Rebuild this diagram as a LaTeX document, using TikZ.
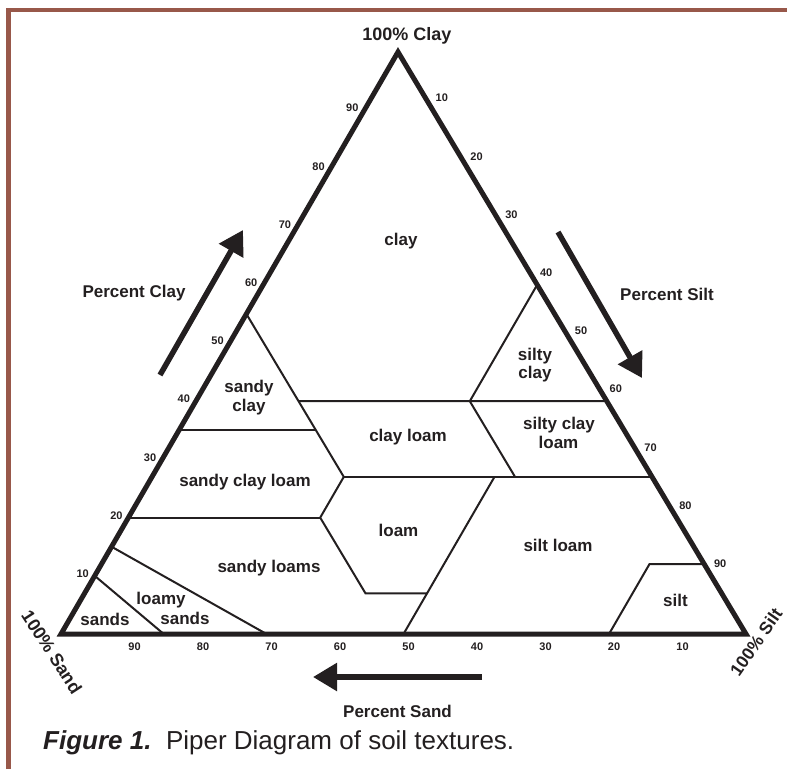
\documentclass[tikz,border=0pt]{standalone}
\usepackage{fontspec}
\setmainfont{Liberation Sans}
\usetikzlibrary{arrows.meta}
\definecolor{framebrown}{RGB}{152,88,74}
\definecolor{ink}{RGB}{35,31,32}
\tikzset{
  outline/.style={line width=5pt, line join=miter, draw=ink},
  zone/.style={line width=2pt, draw=ink},
  bigarrow/.style={line width=5.5pt, draw=ink, -{Triangle[length=24pt,width=27pt]}},
  lbl/.style={font=\fontsize{17}{20}\selectfont\bfseries, text=ink, inner sep=0pt, anchor=base},
  tick/.style={font=\fontsize{11}{12}\selectfont\bfseries, text=ink, inner sep=0pt},
  corner/.style={font=\fontsize{18}{20}\selectfont\bfseries, text=ink, inner sep=0pt},
}
\begin{document}
\begin{tikzpicture}[x=1pt,y=-1pt]
\useasboundingbox (0,0) rectangle (787,769);
% frame
\draw[framebrown, line width=4.5pt] (8.5,769) -- (8.5,10) -- (787,10);
% triangle corners
\coordinate (SA) at (61,634);
\coordinate (SI) at (746,634);
\coordinate (CL) at (398,52);
% boundary points (clay, silt, sand) as fractions
\coordinate (scA)  at (barycentric cs:CL=0.55,SI=0,SA=0.45);
\coordinate (scB)  at (barycentric cs:CL=0.35,SI=0.20,SA=0.45);
\coordinate (clA)  at (barycentric cs:CL=0.40,SI=0.15,SA=0.45);
\coordinate (clR)  at (barycentric cs:CL=0.40,SI=0.60,SA=0);
\coordinate (sicT) at (barycentric cs:CL=0.60,SI=0.40,SA=0);
\coordinate (sicB) at (barycentric cs:CL=0.40,SI=0.40,SA=0.20);
\coordinate (sclB) at (barycentric cs:CL=0.27,SI=0.53,SA=0.20);
\coordinate (scL)  at (barycentric cs:CL=0.35,SI=0,SA=0.65);
\coordinate (clLB) at (barycentric cs:CL=0.27,SI=0.28,SA=0.45);
\coordinate (c27R) at (barycentric cs:CL=0.27,SI=0.73,SA=0);
\coordinate (sclR) at (barycentric cs:CL=0.20,SI=0.28,SA=0.52);
\coordinate (c20L) at (barycentric cs:CL=0.20,SI=0,SA=0.80);
\coordinate (loBL) at (barycentric cs:CL=0.07,SI=0.41,SA=0.52);
\coordinate (loBR) at (barycentric cs:CL=0.07,SI=0.50,SA=0.43);
\coordinate (slT)  at (barycentric cs:CL=0.27,SI=0.50,SA=0.23);
\coordinate (slB)  at (barycentric cs:CL=0,SI=0.50,SA=0.50);
\coordinate (siBL) at (barycentric cs:CL=0,SI=0.80,SA=0.20);
\coordinate (siTL) at (barycentric cs:CL=0.12,SI=0.80,SA=0.08);
\coordinate (siTR) at (barycentric cs:CL=0.12,SI=0.88,SA=0);
\coordinate (lsL)  at (barycentric cs:CL=0.15,SI=0,SA=0.85);
\coordinate (lsB)  at (barycentric cs:CL=0,SI=0.30,SA=0.70);
\coordinate (sdL)  at (barycentric cs:CL=0.10,SI=0,SA=0.90);
\coordinate (sdB)  at (barycentric cs:CL=0,SI=0.15,SA=0.85);
% texture class boundaries
\draw[zone] (scA) -- (scB);
\draw[zone] (scL) -- (scB);
\draw[zone] (clA) -- (clR);
\draw[zone] (sicT) -- (sicB) -- (sclB);
\draw[zone] (scB) -- (clLB);
\draw[zone] (clLB) -- (c27R);
\draw[zone] (clLB) -- (sclR) -- (loBL) -- (loBR);
\draw[zone] (c20L) -- (sclR);
\draw[zone] (slT) -- (slB);
\draw[zone] (siBL) -- (siTL) -- (siTR);
\draw[zone] (lsL) -- (lsB);
\draw[zone] (sdL) -- (sdB);
% outline
\draw[outline] (SA) -- (SI) -- (CL) -- cycle;
% arrows
\coordinate (acT) at (160,375); \coordinate (acH) at (243,230);
\coordinate (asT) at (558,232); \coordinate (asH) at (642,378);
\coordinate (adT) at (482,677); \coordinate (adH) at (313,677);
\draw[bigarrow] (acT) -- (acH);
\draw[bigarrow] (asT) -- (asH);
\draw[bigarrow] (adT) -- (adH);
% class labels
\node[lbl] (tclay) at (401,245) {clay};
\node[lbl] (tsc1) at (249,392.5) {sandy};
\node[lbl] (tsc2) at (249,411.5) {clay};
\node[lbl] (tsic1) at (535,360) {silty};
\node[lbl] (tsic2) at (535,378) {clay};
\node[lbl] (tscl1) at (559,429) {silty clay};
\node[lbl] (tscl2) at (558.5,448) {loam};
\node[lbl] (tcl) at (408,441) {clay loam};
\node[lbl] (tsacl) at (245,486) {sandy clay loam};
\node[lbl] (tlo) at (398.5,536.5) {loam};
\node[lbl] (tsal) at (269,572) {sandy loams};
\node[lbl] (tsil) at (558,551.5) {silt loam};
\node[lbl] (tls1) at (161,604) {loamy};
\node[lbl] (tls2) at (185,624) {sands};
\node[lbl] (tsd) at (105,625.5) {sands};
\node[lbl] (tsi) at (675.5,606.5) {silt};
% axis titles
\node[lbl] (pclay) at (134,297) {Percent Clay};
\node[lbl] (psilt) at (667,300) {Percent Silt};
\node[lbl] (psand) at (397.5,717) {Percent Sand};
\node[corner, anchor=base] (c100) at (407,40) {100\% Clay};
\node[corner, rotate=-57] (s100) at (52,652) {100\% Sand};
\node[corner, rotate=55, font=\fontsize{17.5}{20}\selectfont\bfseries] (si100) at (756,642) {100\% Silt};
% ticks
\foreach \v in {10,20,...,90}{
  \pgfmathsetmacro{\fa}{\v/100}
  \pgfmathsetmacro{\fb}{1-\v/100}
  \node[tick] (lc\v) at ([shift={(-12,-2)}]barycentric cs:CL=\fa,SA=\fb) {\v};
  \node[tick] (rs\v) at ([shift={(9,-12)}]barycentric cs:SI=\fa,CL=\fb) {\v};
  \node[tick] (bs\v) at ([shift={(5,13)}]barycentric cs:SA=\fa,SI=\fb) {\v};
}
% caption
\node[anchor=base west, inner sep=0pt, font=\fontsize{26}{30}\selectfont, text=ink] (cap) at (43,749) {\textbf{\textit{Figure 1.}}\ \ Piper Diagram of soil textures.};
\end{tikzpicture}
\end{document}
